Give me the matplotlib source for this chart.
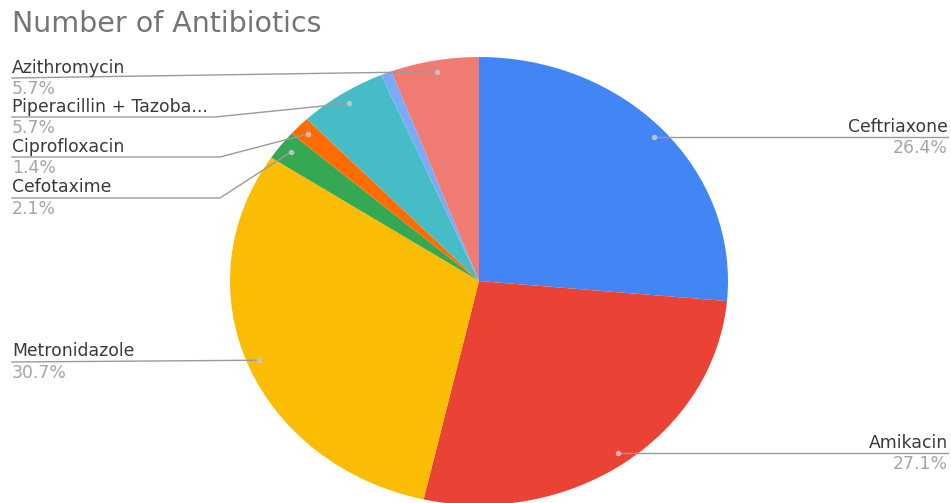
"""Number of Antibiotics — pie chart recreation."""

import matplotlib.pyplot as plt
import numpy as np

drugs = ["Ceftriaxone", "Amikacin", "Metronidazole", "Cefotaxime",
         "Ciprofloxacin", "Piperacillin + Tazobactam", "Others", "Azithromycin"]
counts = [37, 38, 43, 3, 2, 8, 1, 8]
colors = ["#4285F4", "#EA4335", "#FBBC04", "#34A853",
          "#FF6D01", "#46BDC6", "#7BAAF7", "#F07B72"]

# label layout (image pixel coords): side, underline y, bend x
label_layout = {
    "Ceftriaxone": ("right", None, None),
    "Amikacin": ("right", None, None),
    "Metronidazole": ("left", 362, None),
    "Cefotaxime": ("left", 198, 220),
    "Ciprofloxacin": ("left", 157, 220),
    "Piperacillin + Tazobactam": ("left", 117, 215),
    "Azithromycin": ("left", 78, None),
}

W, H = 951, 503
cx, cy, rx, ry = 479, 281, 249, 224   # pie centre / radii in image pixels

plt.rcParams["font.family"] = ["DejaVu Sans"]
fig = plt.figure(figsize=(W / 100, H / 100), dpi=100)

# pie axes: x in [-1, 1] -> [cx-rx, cx+rx], y in [-1, 1] -> [cy+ry, cy-ry]
pax = fig.add_axes([(cx - rx) / W, (H - cy - ry) / H, 2 * rx / W, 2 * ry / H])
pax.pie(counts, colors=colors, startangle=90, counterclock=False,
        wedgeprops=dict(linewidth=0))
pax.set_aspect("auto")
pax.set_xlim(-1, 1)
pax.set_ylim(-1, 1)
pax.axis("off")

# overlay axes in image pixel coordinates
ax = fig.add_axes([0, 0, 1, 1])
ax.set_xlim(0, W)
ax.set_ylim(H, 0)
ax.axis("off")

ax.text(12, 32, "Number of Antibiotics", fontsize=20.5, color="#757575",
        va="baseline", ha="left")

total = sum(counts)
cum = np.cumsum([0] + counts)
line_col = "#9a9a9a"
fs = 12.4
for i, name in enumerate(drugs):
    if name not in label_layout:
        continue
    side, ly, bend = label_layout[name]
    theta = 2 * np.pi * (cum[i] + counts[i] / 2) / total
    dx = cx + 0.95 * rx * np.sin(theta)
    dy = cy - 0.95 * ry * np.cos(theta)
    shown = name if len(name) <= 22 else name[:21] + "..."
    pct = f"{counts[i] / total * 100:.1f}%"
    if side == "right":
        ly = dy
        ax.plot([dx, 948], [dy, dy], color=line_col, lw=1)
        tx, ha = 948, "right"
    else:
        if bend is None:
            ax.plot([12, dx], [ly, dy], color=line_col, lw=1)
        else:
            ax.plot([12, bend, dx], [ly, ly, dy], color=line_col, lw=1)
        tx, ha = 12, "left"
    ax.plot(dx, dy, "o", ms=3, color="#c8c8c8", alpha=0.8)
    ax.text(tx, ly - 5.5, shown, fontsize=fs, color="#3a3a3a", ha=ha, va="baseline")
    ax.text(tx, ly + 16, pct, fontsize=fs, color="#a5a5a5", ha=ha, va="baseline")

fig.savefig("out.png", dpi=100)
